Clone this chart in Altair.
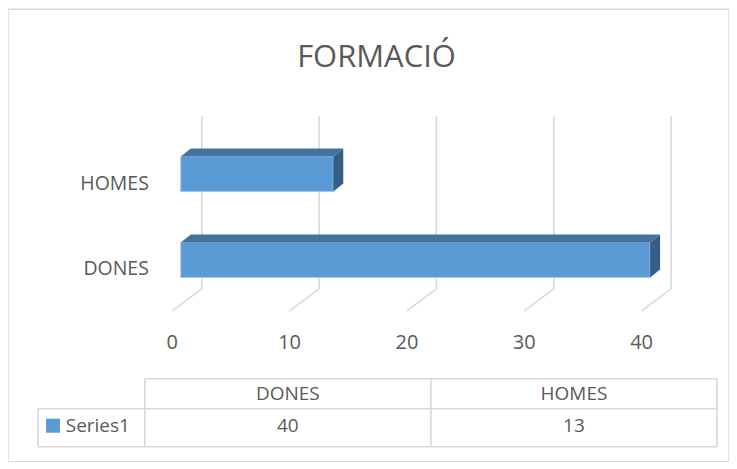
import altair as alt
import pandas as pd

# ---------------- data ----------------
title_text = "FORMACIÓ"
categories = ["DONES", "HOMES"]
values = [40, 13]
series_name = "Series1"
ticks = [0, 10, 20, 30, 40]

# ---------------- style ----------------
FONT = "Open Sans"
TXT = "#595959"
GRID = "#d9d9d9"
FRONT = "#5b9bd5"
TOPC = "#44739f"
SIDE = "#375f86"

# 3-D geometry (in scale units)
HALF = 0.2035      # half bar thickness (category units)
DX = 0.85          # bar depth, x (value units)
DY = 0.093         # bar depth, y (category units)
BACK = 1.787       # back wall offset (value units)
FLOOR = -0.723     # floor front edge offset (value units)
GRID_LO, GRID_HI, FLOOR_Y = -0.337, 1.674, -0.593
TICK_Y = -1.035
LABEL_X, LABEL_DY = -2.72, -0.11

X = alt.Scale(domain=[ticks[0], ticks[-1]], range=[173, 643], nice=False, zero=False)
Y = alt.Scale(domain=[0, 1], range=[251, 165], nice=False, zero=False)

idx = list(range(len(categories)))

front = pd.DataFrame({
    "cat": categories,
    "x": [0] * len(values),
    "x2": values,
    "y": [i - HALF for i in idx],
    "y2": [i + HALF for i in idx],
})

top_rows, side_rows = [], []
for c, v, i in zip(categories, values, idx):
    yf = i + HALF
    yb = i - HALF
    top_rows += [
        {"cat": c, "x": 0, "y": yf, "y2": yf},
        {"cat": c, "x": DX, "y": yf + DY, "y2": yf},
        {"cat": c, "x": v, "y": yf + DY, "y2": yf},
        {"cat": c, "x": v + DX, "y": yf + DY, "y2": yf + DY},
    ]
    side_rows += [
        {"cat": c, "x": v, "y": yf, "y2": yb},
        {"cat": c, "x": v + DX, "y": yf + DY, "y2": yb + DY},
    ]
top = pd.DataFrame(top_rows)
side = pd.DataFrame(side_rows)

grid = pd.DataFrame({
    "x": [t + BACK for t in ticks],
    "y": [GRID_LO] * len(ticks),
    "y2": [GRID_HI] * len(ticks),
})
diag = pd.DataFrame({
    "x": [t + BACK for t in ticks],
    "x2": [t + FLOOR for t in ticks],
    "y": [GRID_LO] * len(ticks),
    "y2": [FLOOR_Y] * len(ticks),
})
ticklab = pd.DataFrame({
    "x": [t + FLOOR for t in ticks],
    "y": [TICK_Y] * len(ticks),
    "label": [str(t) for t in ticks],
})
catlab = pd.DataFrame({
    "x": [LABEL_X] * len(categories),
    "y": [i + LABEL_DY for i in idx],
    "label": categories,
})

def q(f, s):
    return alt.X(f, type="quantitative", scale=s, axis=None)

def qy(f, s):
    return alt.Y(f, type="quantitative", scale=s, axis=None)

grid_l = alt.Chart(grid).mark_rule(color=GRID, strokeWidth=1.6).encode(
    x=q("x", X), y=qy("y", Y), y2="y2")
diag_l = alt.Chart(diag).mark_rule(color=GRID, strokeWidth=1.6).encode(
    x=q("x", X), x2="x2", y=qy("y", Y), y2="y2")
front_l = alt.Chart(front).mark_rect(color=FRONT, stroke="#a3c6e8", strokeWidth=1).encode(
    x=q("x", X), x2="x2", y=qy("y", Y), y2="y2")
top_l = alt.Chart(top).mark_area(color=TOPC, orient="vertical", interpolate="linear").encode(
    x=q("x", X), y=qy("y", Y), y2="y2", detail="cat:N")
side_l = alt.Chart(side).mark_area(color=SIDE, orient="vertical", interpolate="linear").encode(
    x=q("x", X), y=qy("y", Y), y2="y2", detail="cat:N")
tick_l = alt.Chart(ticklab).mark_text(font=FONT, fontSize=20, color=TXT, align="center",
                                      baseline="alphabetic").encode(
    x=q("x", X), y=qy("y", Y), text="label:N")
cat_l = alt.Chart(catlab).mark_text(font=FONT, fontSize=19.5, color=TXT, align="right",
                                    baseline="middle").encode(
    x=q("x", X), y=qy("y", Y), text="label:N")

# ---------------- data table ----------------
n = len(categories)
TX = alt.Scale(domain=[0, n], range=[137, 710], nice=False, zero=False)
TY = alt.Scale(domain=[0, 68], range=[370, 438], nice=False, zero=False)
ROW_TOP, ROW_MID, ROW_BOT = 0, 30, 68
LEFT = -0.3735

hlines = pd.DataFrame({
    "x": [0, LEFT, LEFT],
    "x2": [n, n, n],
    "y": [ROW_TOP, ROW_MID, ROW_BOT],
})
vlines = pd.DataFrame({
    "x": [LEFT] + list(range(n + 1)),
    "y": [ROW_MID] + [ROW_TOP] * (n + 1),
    "y2": [ROW_BOT] * (n + 2),
})
head = pd.DataFrame({
    "x": [i + 0.5 for i in idx],
    "y": [15] * n,
    "label": categories,
})
vals = pd.DataFrame({
    "x": [i + 0.5 for i in idx],
    "y": [47] * n,
    "label": [str(v) for v in values],
})
ser = pd.DataFrame({"x": [-0.2764], "y": [47], "label": [series_name]})
key = pd.DataFrame({"x": [-0.321], "y": [47]})

hl = alt.Chart(hlines).mark_rule(color=GRID, strokeWidth=1.6).encode(
    x=q("x", TX), x2="x2", y=qy("y", TY))
vl = alt.Chart(vlines).mark_rule(color=GRID, strokeWidth=1.6).encode(
    x=q("x", TX), y=qy("y", TY), y2="y2")
head_l = alt.Chart(head).mark_text(font=FONT, fontSize=19, color=TXT, baseline="middle").encode(
    x=q("x", TX), y=qy("y", TY), text="label:N")
vals_l = alt.Chart(vals).mark_text(font=FONT, fontSize=19, color=TXT, baseline="middle").encode(
    x=q("x", TX), y=qy("y", TY), text="label:N")
ser_l = alt.Chart(ser).mark_text(font=FONT, fontSize=19, color=TXT, align="left",
                                 baseline="middle").encode(
    x=q("x", TX), y=qy("y", TY), text="label:N")
key_l = alt.Chart(key).mark_square(size=196, color=FRONT, opacity=1, filled=True).encode(
    x=q("x", TX), y=qy("y", TY))

chart = alt.layer(
    grid_l, diag_l, front_l, top_l, side_l, tick_l, cat_l,
    hl, vl, head_l, vals_l, ser_l, key_l,
).resolve_scale(x="independent", y="independent").properties(
    width=722,
    height=453,
    autosize="none",
    padding={"left": 0, "top": 1, "right": 0, "bottom": 0},
    title=alt.TitleParams(
        text=title_text, font=FONT, fontSize=31, fontWeight="normal", color=TXT,
        anchor="middle", frame="group", orient="top", offset=0,
        baseline="alphabetic", dy=88.7, dx=8,
    ),
).configure_view(stroke=GRID, strokeWidth=1.5)

chart.save("out.html", embed_options={"renderer": "svg", "actions": False})
